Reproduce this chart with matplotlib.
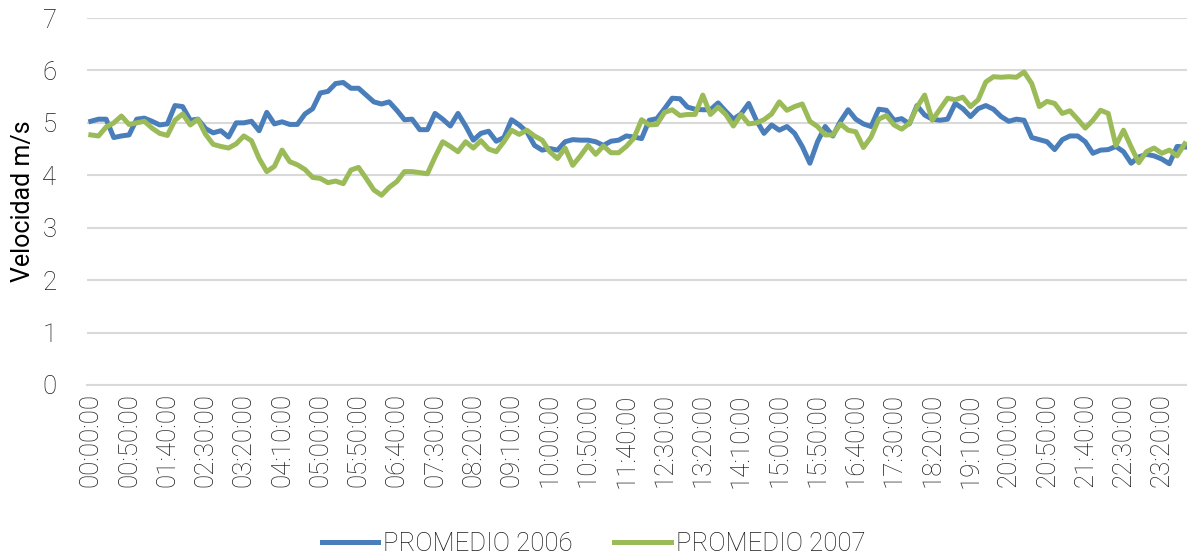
import numpy as np
import matplotlib
matplotlib.use("Agg")
import matplotlib.pyplot as plt

# 10-minute averages, 00:00 .. 23:50
promedio_2006 = [
    5.03, 5.07, 5.07, 4.72, 4.75, 4.77, 5.07, 5.09, 5.03, 4.96,
    4.98, 5.33, 5.31, 5.05, 5.07, 4.89, 4.81, 4.85, 4.73, 5.00,
    5.00, 5.03, 4.85, 5.20, 4.98, 5.02, 4.97, 4.97, 5.17, 5.27,
    5.57, 5.60, 5.75, 5.77, 5.66, 5.66, 5.53, 5.40, 5.36, 5.40,
    5.24, 5.06, 5.07, 4.87, 4.87, 5.18, 5.07, 4.94, 5.18, 4.94,
    4.67, 4.80, 4.84, 4.65, 4.72, 5.06, 4.96, 4.83, 4.57, 4.48,
    4.51, 4.48, 4.64, 4.68, 4.67, 4.67, 4.64, 4.57, 4.65, 4.67,
    4.75, 4.73, 4.70, 5.05, 5.08, 5.27, 5.47, 5.46, 5.30, 5.26,
    5.25, 5.25, 5.38, 5.22, 5.07, 5.17, 5.37, 5.05, 4.80, 4.96,
    4.86, 4.93, 4.80, 4.55, 4.23, 4.64, 4.93, 4.75, 5.03, 5.25,
    5.07, 4.98, 4.93, 5.26, 5.24, 5.05, 5.08, 4.98, 5.33, 5.15,
    5.07, 5.05, 5.07, 5.37, 5.27, 5.12, 5.27, 5.33, 5.26, 5.12,
    5.03, 5.07, 5.05, 4.72, 4.68, 4.64, 4.49, 4.68, 4.75, 4.75,
    4.64, 4.42, 4.48, 4.49, 4.55, 4.45, 4.23, 4.35, 4.40, 4.37,
    4.31, 4.22, 4.55, 4.54,
]
promedio_2007 = [
    4.77, 4.75, 4.92, 5.00, 5.13, 4.97, 5.00, 5.03, 4.90, 4.80,
    4.76, 5.05, 5.17, 4.96, 5.07, 4.78, 4.59, 4.55, 4.52, 4.60,
    4.75, 4.66, 4.32, 4.07, 4.17, 4.48, 4.26, 4.20, 4.11, 3.96,
    3.94, 3.86, 3.89, 3.84, 4.10, 4.15, 3.94, 3.72, 3.62, 3.77,
    3.88, 4.07, 4.07, 4.05, 4.03, 4.35, 4.64, 4.55, 4.45, 4.64,
    4.52, 4.66, 4.50, 4.45, 4.64, 4.86, 4.78, 4.86, 4.75, 4.67,
    4.45, 4.32, 4.52, 4.19, 4.37, 4.57, 4.40, 4.56, 4.43, 4.43,
    4.55, 4.71, 5.06, 4.96, 4.97, 5.20, 5.25, 5.14, 5.16, 5.16,
    5.53, 5.16, 5.30, 5.16, 4.94, 5.16, 4.98, 5.00, 5.06, 5.17,
    5.40, 5.24, 5.31, 5.36, 5.03, 4.93, 4.77, 4.77, 4.98, 4.86,
    4.83, 4.53, 4.73, 5.07, 5.14, 4.96, 4.88, 4.99, 5.30, 5.53,
    5.05, 5.26, 5.47, 5.44, 5.49, 5.31, 5.44, 5.78, 5.88, 5.87,
    5.88, 5.87, 5.97, 5.75, 5.31, 5.41, 5.37, 5.18, 5.23, 5.07,
    4.90, 5.05, 5.24, 5.18, 4.57, 4.86, 4.54, 4.24, 4.45, 4.52,
    4.42, 4.48, 4.37, 4.60,
]
horas = ["%02d:%02d:00" % (m // 60, m % 60) for m in range(0, 24 * 60, 10)]

tick_font = {"family": "Roboto", "weight": "light", "size": 18.5}
text_color = "#1a1a1a"

fig = plt.figure(figsize=(11.87, 5.58), dpi=100)
ax = fig.add_axes([87 / 1187, 1 - 385 / 558, 1 - 87 / 1187, (385 - 18) / 558])

x = np.arange(len(horas))
ax.plot(x, promedio_2006, color="#4a7ebb", lw=3.6, label="PROMEDIO 2006",
        solid_joinstyle="round")
ax.plot(x, promedio_2007, color="#9bbb59", lw=3.6, label="PROMEDIO 2007",
        solid_joinstyle="round")

ax.set_xlim(-0.5, len(horas) - 0.7)
ax.set_ylim(0, 7)
ax.set_yticks(range(0, 8))
ax.set_xticks(x[::5])
ax.set_xticklabels(horas[::5], rotation=90, color=text_color, **tick_font)
for lab in ax.get_yticklabels():
    lab.set_fontproperties(tick_font)
    lab.set_color(text_color)

ax.grid(axis="y", color="#d9d9d9", lw=1.5)
ax.set_axisbelow(True)
for s in ["top", "right", "left"]:
    ax.spines[s].set_visible(False)
ax.spines["bottom"].set_color("#d9d9d9")
ax.spines["bottom"].set_linewidth(1.5)
ax.tick_params(axis="both", length=0)
ax.tick_params(axis="y", pad=22)
ax.tick_params(axis="x", pad=6)

ax.set_ylabel("Velocidad m/s", family="Roboto", fontsize=18, color="black")
ax.yaxis.set_label_coords(-52 / 1100, 0.5)

leg = fig.legend(loc="center", bbox_to_anchor=(0.5, 1 - 544 / 558), ncol=2,
                 frameon=False, prop=tick_font,
                 handlelength=2.2, handletextpad=0.2, columnspacing=1.6)
for t in leg.get_texts():
    t.set_color(text_color)

fig.savefig("out.png", dpi=100)
